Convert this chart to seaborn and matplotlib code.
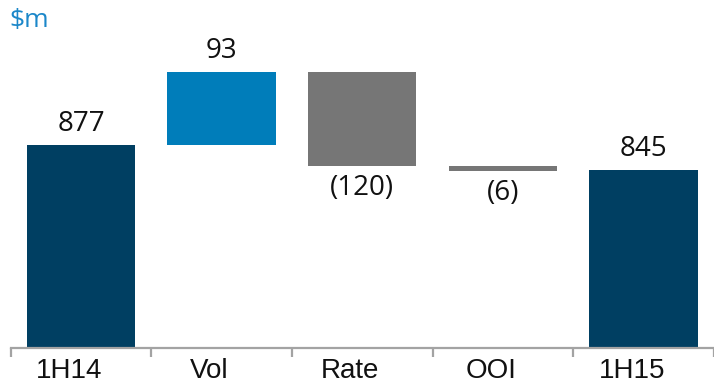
import matplotlib.pyplot as plt
import matplotlib.transforms as mtransforms
import seaborn as sns

sns.set_style("white")

# Data
categories = ['1H14', 'Vol', 'Rate', 'OOI', '1H15']
start_value = 877
changes = [93, -120, -6]
end_value = 845
bar_colors = ['#003F62', '#007DBA', '#767676', '#767676', '#003F62']

# Waterfall: bottoms / heights
tops, bottoms = [start_value], [0]
level = start_value
for c in changes:
    new_level = level + c
    bottoms.append(min(level, new_level))
    tops.append(max(level, new_level))
    level = new_level
tops.append(end_value)
bottoms.append(0)
heights = [t - b for t, b in zip(tops, bottoms)]
values = [start_value] + changes + [end_value]
labels = [str(v) if v >= 0 else f'({abs(v)})' for v in values]

fig = plt.figure(figsize=(7.14, 3.86), dpi=100)
ax = fig.add_axes([10.6 / 714, 38 / 386, 703.4 / 714, 348 / 386])

sns.barplot(x=categories, y=heights, bottom=bottoms, width=0.77,
            errorbar=None, saturation=1, color=bar_colors[0], ax=ax)
for patch, col in zip(ax.patches, bar_colors):
    patch.set_facecolor(col)
    patch.set_edgecolor('none')

# Value labels
for i, (v, lab) in enumerate(zip(values, labels)):
    if v >= 0 or i in (0, len(values) - 1):
        ax.annotate(lab, (i, tops[i]), xytext=(0, 5), textcoords='offset points',
                    ha='center', va='bottom', fontsize=20, family='Open Sans',
                    color='#111111')
    else:
        ax.annotate(lab, (i, bottoms[i]), xytext=(0, -6), textcoords='offset points',
                    ha='center', va='top', fontsize=20, family='Open Sans',
                    color='#111111')

ax.set_xlim(-0.5, -0.5 + 703.4 / 141.6)
ax.set_ylim(618.4, 1061.6)
ax.set_yticks([])
ax.set_xlabel('')
ax.set_ylabel('')

for s in ['left', 'right', 'top']:
    ax.spines[s].set_visible(False)
ax.spines['bottom'].set_color('#A3A3A3')
ax.spines['bottom'].set_linewidth(1.6)

ax.set_xticks(range(len(categories)))
ax.set_xticklabels(categories, family=['Liberation Sans', 'DejaVu Sans'],
                   fontsize=20, color='#111111')
ax.tick_params(axis='x', which='major', length=0, pad=7)
shift = mtransforms.ScaledTranslation(-12 / 100, 0, fig.dpi_scale_trans)
for t in ax.get_xticklabels():
    t.set_transform(t.get_transform() + shift)
ax.set_xticks([i - 0.5 for i in range(len(categories) + 1)], minor=True)
ax.tick_params(axis='x', which='minor', length=6.5, width=1.6, color='#A3A3A3',
               direction='out', bottom=True)

fig.text(9 / 714, 1 - 27 / 386, '$m', fontsize=19, family='Open Sans',
         color='#1B87C9', ha='left', va='baseline')

plt.savefig('out.png', dpi=100)
